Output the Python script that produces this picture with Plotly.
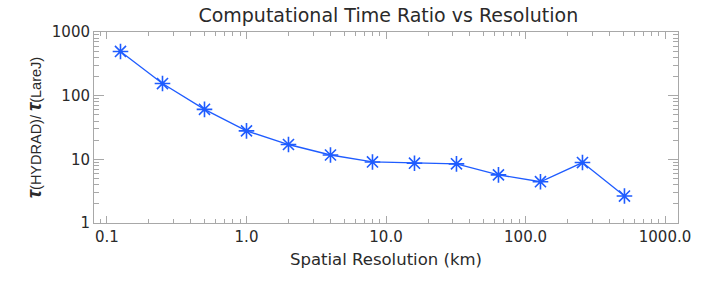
import plotly.graph_objects as go

resolution_km = [0.125, 0.25, 0.5, 1, 2, 4, 8, 16, 32, 64, 128, 256, 512]
time_ratio = [495, 155, 61, 28, 17.1, 11.7, 9.1, 8.7, 8.5, 5.7, 4.45, 8.9, 2.65]

x_tickvals = [0.1, 1, 10, 100, 1000]
x_ticktext = ["0.1", "1.0", "10.0", "100.0", "1000.0"]
y_tickvals = [1, 10, 100, 1000]
y_ticktext = ["1", "10", "100", "1000"]

blue = "#1f5cff"
axis_col = "#a8a8a8"
font_main = "DejaVu Sans"
text_col = "#2a2a2a"

fig = go.Figure()
fig.add_trace(go.Scatter(
    x=resolution_km, y=time_ratio, mode="lines+markers",
    line=dict(color=blue, width=1.3),
    marker=dict(symbol="asterisk-open", size=13, color=blue,
                line=dict(color=blue, width=1.6)),
    showlegend=False,
))

fig.update_layout(
    width=706, height=282,
    margin=dict(l=94, r=28, t=32, b=59),
    paper_bgcolor="white", plot_bgcolor="white",
    title=dict(text="Computational Time Ratio vs Resolution",
               x=0.55, xanchor="center", y=0.945, yanchor="middle",
               font=dict(family=font_main, size=19, color=text_col)),
    font=dict(family=font_main, color=text_col),
)

fig.update_xaxes(
    type="log", range=[-1.093, 3.093],
    tickvals=x_tickvals, ticktext=x_ticktext,
    showgrid=False, zeroline=False,
    showline=True, linecolor=axis_col, linewidth=1, mirror="allticks",
    ticks="inside", ticklen=7, tickcolor=axis_col,
    minor=dict(ticks="inside", ticklen=4, tickcolor=axis_col, dtick="D1", showgrid=False),
    tickfont=dict(family=font_main, size=15, color=text_col),
    title=dict(text="Spatial Resolution (km)", standoff=8,
               font=dict(family=font_main, size=16.5, color=text_col)),
)
fig.update_yaxes(
    type="log", range=[0, 3],
    tickvals=y_tickvals, ticktext=y_ticktext,
    showgrid=False, zeroline=False,
    showline=True, linecolor=axis_col, linewidth=1, mirror="allticks",
    ticks="inside", ticklen=10, tickcolor=axis_col,
    minor=dict(ticks="inside", ticklen=5, tickcolor=axis_col, dtick="D1", showgrid=False),
    tickfont=dict(family=font_main, size=15, color=text_col),
    title=dict(text="<b><i><span style='font-size:20px'>τ</span></i></b>(HYDRAD)/ <b><i><span style='font-size:20px'>τ</span></i></b>(LareJ)",
               standoff=6,
               font=dict(family="Liberation Sans", size=14.5, color=text_col)),
)

fig.write_html("out.html", config={"displayModeBar": False},
               post_script="document.body.style.margin='0';document.body.style.padding='0';")
